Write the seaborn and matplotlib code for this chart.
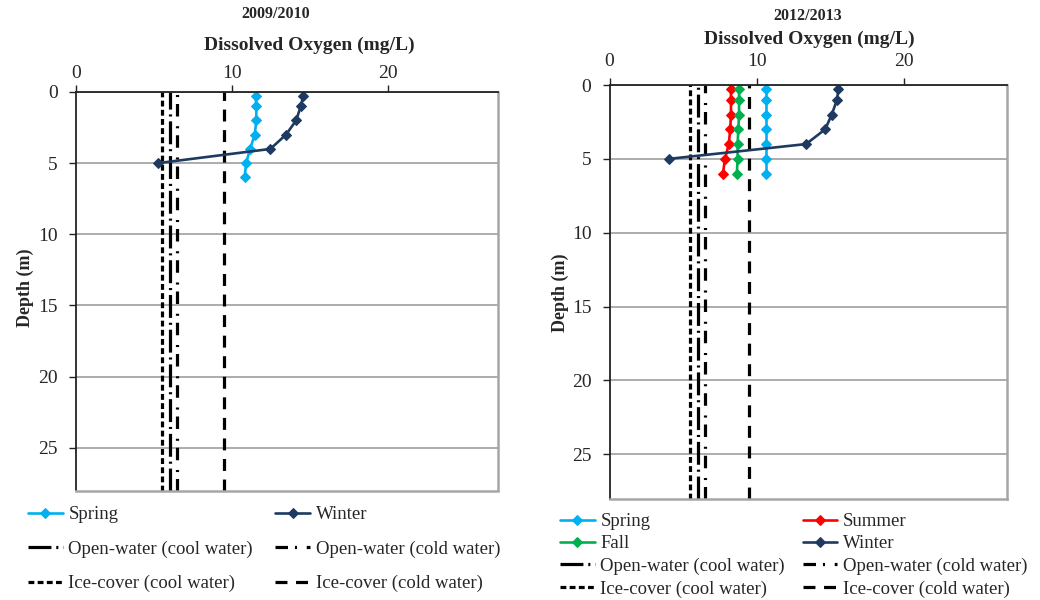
import matplotlib
matplotlib.use("Agg")
import matplotlib.pyplot as plt
import seaborn as sns

sns.set_style("white")
plt.rcParams["font.family"] = ["Liberation Serif", "DejaVu Serif"]
plt.rcParams["lines.scale_dashes"] = False

# ---------------- data ----------------
depth = [0.3, 1, 2, 3, 4, 5, 6]
depth_winter = [0.3, 1, 2, 3, 4, 5]

spring_0910 = [11.5, 11.55, 11.55, 11.45, 11.15, 10.9, 10.8]
winter_0910 = [14.55, 14.4, 14.1, 13.45, 12.45, 5.25]

spring_1213 = [10.6, 10.6, 10.6, 10.6, 10.6, 10.6, 10.6]
summer_1213 = [8.25, 8.25, 8.25, 8.2, 8.1, 7.85, 7.7]
fall_1213 = [8.8, 8.8, 8.8, 8.75, 8.7, 8.7, 8.65]
winter_1213 = [15.55, 15.45, 15.1, 14.65, 13.35, 4.05]

threshold_labels = ["Open-water (cool water)", "Open-water (cold water)",
                    "Ice-cover (cool water)", "Ice-cover (cold water)"]
threshold_values = [6.0, 6.5, 5.5, 9.5]

x_ticks = [0, 10, 20]
y_ticks = [0, 5, 10, 15, 20, 25]
x_label = "Dissolved Oxygen (mg/L)"
y_label = "Depth (m)"

# ---------------- styles ----------------
colors = {"Spring": "#00B0F0", "Summer": "#FF0000", "Fall": "#00B050", "Winter": "#1F3A60"}
thr_dashes = {
    "Open-water (cool water)": (16.5, 3.5, 1.5, 3.5),
    "Open-water (cold water)": (9.0, 5.0, 1.5, 7.0),
    "Ice-cover (cool water)": (4.2, 2.4),
    "Ice-cover (cold water)": (8.6, 6.2),
}
FS = 14
LFS = 13.5
GRID = "#A6A6A6"

fig = plt.figure(figsize=(10.4, 6.0), dpi=100)
ax1 = fig.add_axes([76 / 1040, 1 - 490.5 / 600, 421.5 / 1040, 398.5 / 600])
ax2 = fig.add_axes([609.5 / 1040, 1 - 498.5 / 600, 397.5 / 1040, 413.5 / 600])


def draw(ax, series, xpad):
    for name, vals, dep in series:
        sns.lineplot(x=vals, y=dep, sort=False, estimator=None, ax=ax,
                     color=colors[name], marker="D", markersize=5.0,
                     markeredgecolor=colors[name], linewidth=1.9, label=name)
    for lab, v in zip(threshold_labels, threshold_values):
        ax.axvline(v, color="black", linewidth=2.3, dashes=thr_dashes[lab], label=lab, zorder=1.5)
    if ax.get_legend() is not None:
        ax.get_legend().remove()
    ax.set_xlim(0, 27)
    ax.set_ylim(28, 0)
    ax.xaxis.tick_top()
    ax.set_xticks(x_ticks)
    ax.set_yticks(y_ticks)
    ax.set_xlabel("")
    ax.set_ylabel("")
    ax.set_axisbelow(True)
    ax.yaxis.grid(True, color=GRID, linewidth=1.3)
    ax.xaxis.grid(False)
    for s in ["top", "left"]:
        ax.spines[s].set_color("#222222")
        ax.spines[s].set_linewidth(1.3)
    for s in ["right", "bottom"]:
        ax.spines[s].set_color(GRID)
        ax.spines[s].set_linewidth(1.8)
    ax.tick_params(axis="both", direction="out", length=5, width=1.0, color="#222222",
                   labelsize=FS)
    ax.tick_params(axis="x", top=True, bottom=False, labeltop=True, labelbottom=False, pad=xpad)
    ax.tick_params(axis="y", left=True, pad=8)


draw(ax1, [("Spring", spring_0910, depth), ("Winter", winter_0910, depth_winter)], 2)
draw(ax2, [("Spring", spring_1213, depth), ("Summer", summer_1213, depth),
           ("Fall", fall_1213, depth), ("Winter", winter_1213, depth_winter)], 5.5)

# titles / labels
fig.text(276 / 1040, 1 - 14 / 600, "2009/2010", ha="center", va="center", fontsize=11.5, fontweight="bold")
fig.text(309 / 1040, 1 - 45 / 600, x_label, ha="center", va="center", fontsize=FS, fontweight="bold")
fig.text(808 / 1040, 1 - 16 / 600, "2012/2013", ha="center", va="center", fontsize=11.5, fontweight="bold")
fig.text(809 / 1040, 1 - 39 / 600, x_label, ha="center", va="center", fontsize=FS, fontweight="bold")
fig.text(25 / 1040, 1 - 288 / 600, y_label, rotation=90, ha="center", va="center", fontsize=13, fontweight="bold")
fig.text(560 / 1040, 1 - 293 / 600, y_label, rotation=90, ha="center", va="center", fontsize=13, fontweight="bold")


def make_legend(ax, order, anchor, labelspacing, colspacing):
    h, l = ax.get_legend_handles_labels()
    d = dict(zip(l, h))
    fig.legend([d[k] for k in order], order, loc="upper left", bbox_to_anchor=anchor,
               ncol=2, frameon=False, fontsize=LFS, handlelength=1.85, handletextpad=0.3,
               columnspacing=colspacing, labelspacing=labelspacing, borderaxespad=0, borderpad=0)


make_legend(ax1, ["Spring", "Open-water (cool water)", "Ice-cover (cool water)",
                  "Winter", "Open-water (cold water)", "Ice-cover (cold water)"],
            (28 / 1040, 1 - 506 / 600), 0.92, 1.2)
make_legend(ax2, ["Spring", "Fall", "Open-water (cool water)", "Ice-cover (cool water)",
                  "Summer", "Winter", "Open-water (cold water)", "Ice-cover (cold water)"],
            (560 / 1040, 1 - 513 / 600), 0.28, 0.95)

fig.savefig("out.png", dpi=100)
